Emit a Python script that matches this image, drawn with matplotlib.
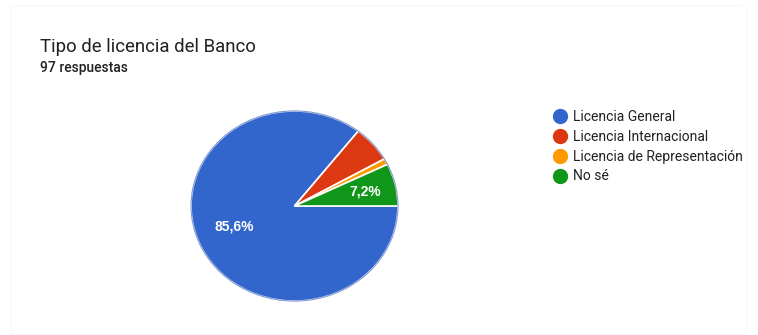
import numpy as np
import matplotlib.pyplot as plt
from matplotlib.lines import Line2D
from matplotlib.patches import FancyBboxPatch

# Respuestas por tipo de licencia (97 en total)
categorias = ["Licencia General", "Licencia Internacional",
              "Licencia de Representación", "No sé"]
respuestas = [83, 6, 1, 7]
colores = ["#3366cc", "#dc3912", "#ff9900", "#109618"]

plt.rcParams["font.family"] = ["Roboto", "DejaVu Sans"]

W, H = 758, 335
fig = plt.figure(figsize=(W / 100, H / 100), dpi=100)
fig.patch.set_facecolor("white")

# tarjeta de fondo con borde muy tenue
card = FancyBboxPatch((11 / W, 0.0), 1 - 22 / W, 1 - 6 / H,
                      boxstyle="round,pad=0,rounding_size=0.01",
                      transform=fig.transFigure, facecolor="white",
                      edgecolor="#fafafa", linewidth=1.0, zorder=-5)
fig.patches.append(card)

fig.text(40 / W, 1 - 47 / H, "Tipo de licencia del Banco", fontsize=13.4,
         color="#202124", va="center", ha="left")
fig.text(40 / W, 1 - 68 / H, "97 respuestas", fontsize=10,
         color="#202124", fontweight="medium", va="center", ha="left")

# ejes colocados en pixeles: x 190-399, y 110-302
ax = fig.add_axes([190 / W, 1 - 302 / H, 209 / W, 192 / H])
total = sum(respuestas)
wedges, _ = ax.pie(respuestas, colors=colores, startangle=0, counterclock=False,
                   radius=1.0,
                   wedgeprops=dict(edgecolor="white", linewidth=1.2))
# contorno exterior algo más oscuro
ax.add_patch(plt.Circle((0, 0), 1.0, fill=False, edgecolor="#2a55b0",
                        linewidth=0.8, alpha=0.6))
ax.set_aspect("auto")
ax.set_xlim(-1.01, 1.01)
ax.set_ylim(-1.01, 1.01)
ax.axis("off")

# etiquetas de porcentaje sobre las porciones grandes
for w, n in zip(wedges, respuestas):
    pct = 100 * n / total
    if pct < 7:
        continue
    if pct > 50:
        ang, r = np.deg2rad(200), 0.62
    else:
        ang, r = np.deg2rad((w.theta1 + w.theta2) / 2), 0.7
    ax.text(r * np.cos(ang), r * np.sin(ang),
            f"{pct:.1f}%".replace(".", ","), color="white",
            family=["Liberation Sans", "DejaVu Sans"],
            fontsize=10, fontweight="bold", ha="center", va="center")

handles = [Line2D([], [], marker="o", linestyle="none", markersize=10,
                  markerfacecolor=c, markeredgecolor=c) for c in colores]
fig.legend(handles, categorias, loc="upper left",
           bbox_to_anchor=(546 / W, 1 - 103 / H), frameon=False,
           handlelength=1.0, handletextpad=0.45,
           labelspacing=0.42, borderpad=0, labelcolor="#202124",
           prop={"size": 10})

fig.savefig("out.png", dpi=100, facecolor="white")
